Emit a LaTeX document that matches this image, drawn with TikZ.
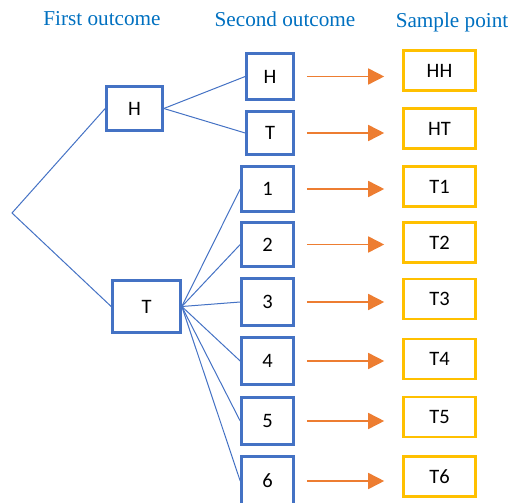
\documentclass[tikz,border=0pt]{standalone}
\usepackage{fontspec}
\setmainfont{Carlito}
\newfontfamily\headfont{Liberation Serif}
\usetikzlibrary{arrows.meta}
\definecolor{boxblue}{HTML}{4472C4}
\definecolor{arrorange}{HTML}{ED7D31}
\definecolor{ptyellow}{HTML}{FFC000}
\definecolor{headblue}{HTML}{0070C0}
\tikzset{
  bluebox/.style={draw=boxblue, line width=2.6pt, minimum width=#1, inner sep=0pt, font=\fontsize{20.5}{22}\selectfont, text=black},
  ybox/.style={draw=ptyellow, line width=2.6pt, minimum width=72pt, minimum height=40pt, inner sep=0pt, font=\fontsize{20.5}{22}\selectfont, text=black},
  head/.style={font=\headfont\fontsize{21.2}{23}\selectfont, text=headblue},
  branch/.style={draw=boxblue, line width=1pt},
  arr/.style={draw=arrorange, line width=1.6pt, -{Triangle[length=16pt,width=16pt]}, shorten <=12pt, shorten >=18pt}
}
\begin{document}
\begin{tikzpicture}[x=1pt,y=-1pt]
\useasboundingbox (0,0) rectangle (510,502);
% headers
\node[head] (h-first) at (102,19) {First outcome};
\node[head] (h-second) at (285,19) {Second outcome};
\node[head] (h-sample) at (452,22) {Sample point};
% first outcome
\coordinate (root) at (12,213);
\node[bluebox=56pt, minimum height=44pt] (fH) at (134.5,108.5) {H};
\node[bluebox=68pt, minimum height=52pt] (fT) at (146.5,306.5) {T};
% second outcome
\node[bluebox=47pt, minimum height=46pt] (sH) at (270,76.5) {H};
\node[bluebox=47pt, minimum height=43pt] (sT) at (270,133) {T};
\node[bluebox=52pt, minimum height=45pt] (s1) at (267.5,189) {1};
\node[bluebox=52pt, minimum height=44pt] (s2) at (267.5,244.5) {2};
\node[bluebox=52pt, minimum height=47pt] (s3) at (267.5,302) {3};
\node[bluebox=52pt, minimum height=47pt] (s4) at (267.5,361) {4};
\node[bluebox=52pt, minimum height=47pt] (s5) at (267.5,421) {5};
\node[bluebox=52pt, minimum height=49pt] (s6) at (267.5,481) {6};
% sample points
\node[ybox] (pHH) at (439.5,70.5) {HH};
\node[ybox] (pHT) at (439.5,128.5) {HT};
\node[ybox] (pT1) at (439.5,186.5) {T1};
\node[ybox] (pT2) at (439.5,242.5) {T2};
\node[ybox] (pT3) at (439.5,299) {T3};
\node[ybox] (pT4) at (439.5,359) {T4};
\node[ybox] (pT5) at (439.5,417) {T5};
\node[ybox] (pT6) at (439.5,476.5) {T6};
% branches
\draw[branch] (fH.west) -- (root) -- (fT.west);
\draw[branch] (fH.east) -- (sH.west);
\draw[branch] (fH.east) -- (sT.west);
\foreach \k in {1,...,6} {\draw[branch] (fT.east) -- (s\k.west);}
% arrows
\draw[arr] (sH.east) -- (sH.east -| pHH.west);
\draw[arr] (sT.east) -- (sT.east -| pHT.west);
\foreach \k in {1,...,6} {\draw[arr] (s\k.east) -- (s\k.east -| pT\k.west);}
\end{tikzpicture}
\end{document}
